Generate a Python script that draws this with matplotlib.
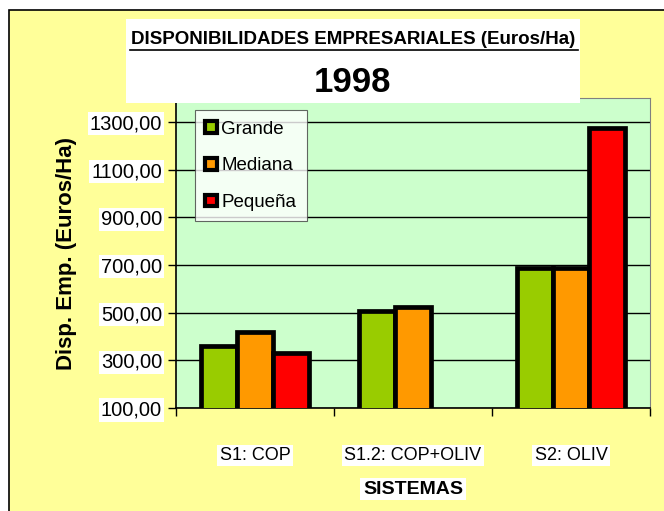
import matplotlib
matplotlib.use("Agg")
import matplotlib.pyplot as plt
from matplotlib.patches import Rectangle
import numpy as np

categories = ["S1: COP", "S1.2: COP+OLIV", "S2: OLIV"]
series = ["Grande", "Mediana", "Pequeña"]
grande = [360, 505, 685]
mediana = [420, 525, 685]
pequena = [330, np.nan, 1275]
colors = ["#99CC00", "#FF9900", "#FF0000"]
yticks = [100, 300, 500, 700, 900, 1100, 1300]

plt.rcParams["font.family"] = ["Liberation Sans", "DejaVu Sans"]

fig = plt.figure(figsize=(6.64, 5.11), dpi=100)
fig.patch.set_facecolor("white")
# yellow chart area with black border (cut off at right/bottom)
fig.patches.append(Rectangle((9 / 664, -0.05), 1.1, 1 - 10 / 511 + 0.05,
                             transform=fig.transFigure, facecolor="#FFFF99",
                             edgecolor="black", linewidth=1.2, zorder=-5))

ax = fig.add_axes([176 / 664, 1 - 408 / 511, (650 - 176) / 664, (408 - 98) / 511])
ax.set_facecolor("#CCFFCC")

x = np.arange(len(categories))
w = 0.228
for i, (vals, c, name) in enumerate(zip([grande, mediana, pequena], colors, series)):
    ax.bar(x + (i - 1) * w, vals, width=w, bottom=0, color=c, edgecolor="black",
           linewidth=3.4, label=name, zorder=3)

ax.set_ylim(100, 1400)
ax.set_xlim(-0.5, 2.5)
ax.set_yticks(yticks)
ax.set_yticklabels([f"{v:.2f}".replace(".", ",") for v in yticks], fontsize=14.5)
ax.yaxis.grid(True, color="black", linewidth=1.0, zorder=1)
ax.set_axisbelow(True)

ax.set_xticks(x)
ax.set_xticklabels(categories, fontsize=13)
ax.set_xticks([-0.5, 0.5, 1.5, 2.5], minor=True)
ax.tick_params(axis="x", which="major", length=0, pad=28)
ax.tick_params(axis="x", which="minor", length=6, direction="out", width=1)
ax.tick_params(axis="y", length=6, direction="out", width=1, pad=4)
for lab in ax.get_xticklabels() + ax.get_yticklabels():
    lab.set_bbox(dict(facecolor="white", edgecolor="none", pad=1.5))

for s in ["top", "right"]:
    ax.spines[s].set_color("#808080")
for s in ["left", "bottom"]:
    ax.spines[s].set_color("black")
    ax.spines[s].set_linewidth(1.2)

ax.set_ylabel("Disp. Emp. (Euros/Ha)", fontsize=16, fontweight="bold", labelpad=9)
ax.set_xlabel("SISTEMAS", fontsize=14, fontweight="bold", labelpad=12,
              bbox=dict(facecolor="white", edgecolor="none", pad=2))

leg = ax.legend(loc="upper left", bbox_to_anchor=(0.04, 0.96), fontsize=13.5,
                frameon=True, fancybox=False, borderpad=0.55, labelspacing=1.05,
                handlelength=0.6, handleheight=0.6, handletextpad=0.25,
                borderaxespad=0)
leg.get_frame().set_edgecolor("#404040")
leg.get_frame().set_linewidth(0.8)
for h in leg.legend_handles:
    h.set_linewidth(3)

# title box
fig.patches.append(Rectangle((126 / 664, 1 - 103 / 511), (580 - 126) / 664, (103 - 19) / 511,
                             transform=fig.transFigure, facecolor="white",
                             edgecolor="none", zorder=1))
fig.text(353 / 664, 1 - 40 / 511, "DISPONIBILIDADES EMPRESARIALES (Euros/Ha)",
         ha="center", va="center", fontsize=13.5, fontweight="bold", zorder=2)
fig.text(353 / 664, 1 - 82 / 511, "1998", ha="center", va="center",
         fontsize=25, fontweight="bold", zorder=2)
# underline title line
fig.add_artist(plt.Line2D([130 / 664, 578 / 664], [1 - 50 / 511, 1 - 50 / 511],
                          transform=fig.transFigure, color="black", linewidth=1.2, zorder=2))

fig.savefig("out.png", dpi=100, facecolor=fig.get_facecolor())
